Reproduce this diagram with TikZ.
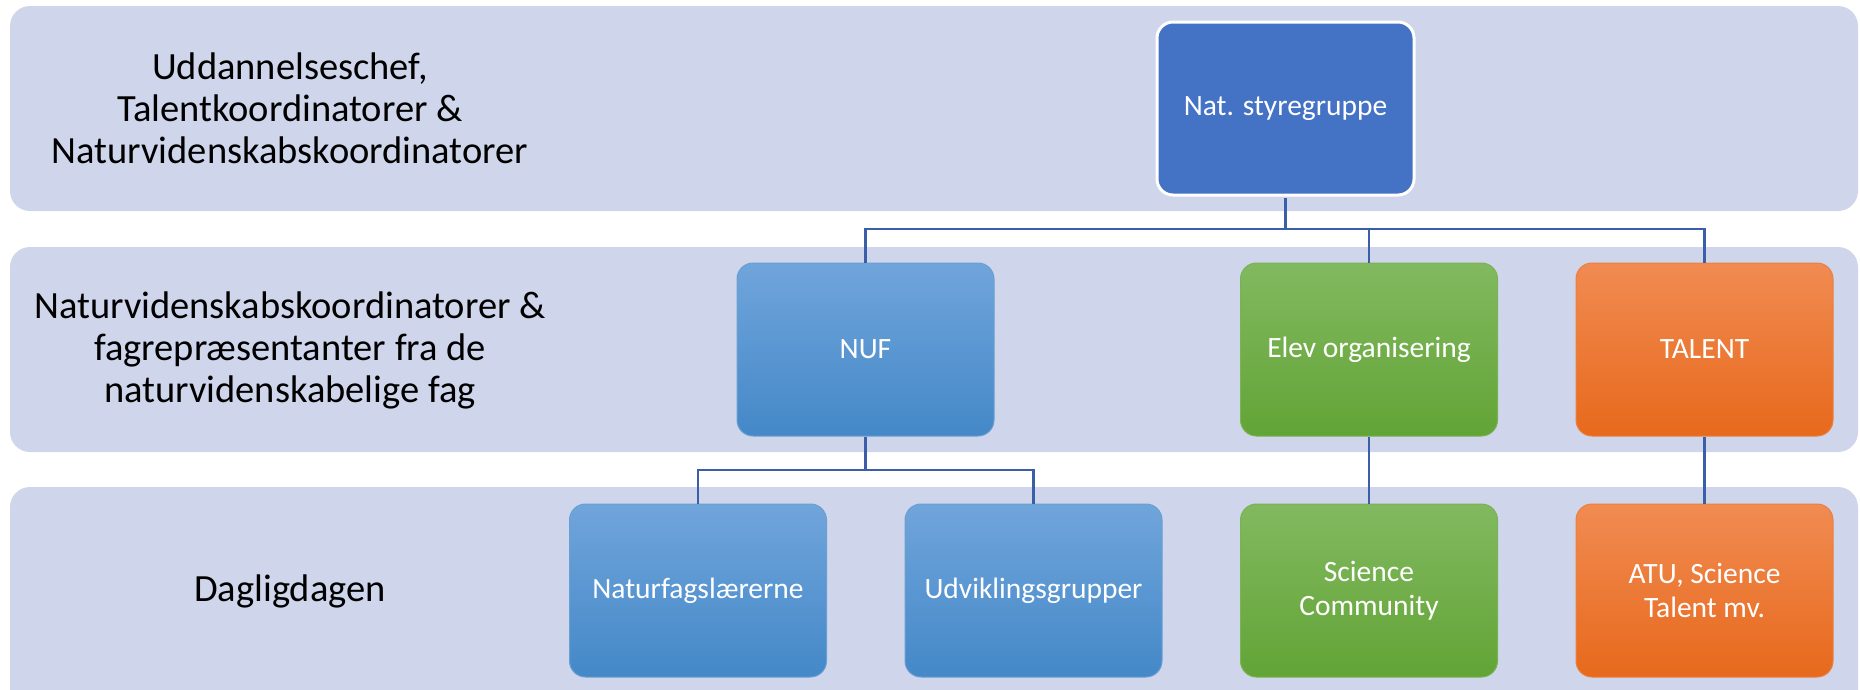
\documentclass[tikz,border=0pt]{standalone}
\usepackage{fontspec}
\setmainfont{Carlito}
\usepackage{tikz}
\usetikzlibrary{positioning}

\definecolor{bandgray}{HTML}{CFD5EA}
\definecolor{natblue}{HTML}{4472C4}
\definecolor{linkblue}{HTML}{3A5FA8}
\definecolor{bluetop}{HTML}{70A5DB}
\definecolor{bluebot}{HTML}{4488C8}
\definecolor{greentop}{HTML}{82B960}
\definecolor{greenbot}{HTML}{62A436}
\definecolor{orangetop}{HTML}{F18B52}
\definecolor{orangebot}{HTML}{E7691C}

\tikzset{
  band/.style={fill=bandgray, rounded corners=20pt},
  lvltext/.style={font=\fontsize{38.5}{42}\selectfont, align=center, text=black},
  unit/.style={rectangle, rounded corners=16pt, minimum width=257pt, minimum height=173pt,
    inner sep=0pt, text=white, align=center, font=\fontsize{29.5}{34}\selectfont},
  natbox/.style={unit, fill=natblue, draw=white, line width=3pt},
  bluebox/.style={unit, top color=bluetop, bottom color=bluebot, draw=bluebot!80!white, line width=1pt},
  greenbox/.style={unit, top color=greentop, bottom color=greenbot, draw=greenbot!85!white, line width=1pt},
  orangebox/.style={unit, top color=orangetop, bottom color=orangebot, draw=orangebot!85!white, line width=1pt},
  conn/.style={draw=linkblue, line width=2.6pt}
}

\begin{document}
\begin{tikzpicture}[x=1pt, y=-1pt]
\useasboundingbox (0,0) rectangle (1860,689);

% levels
\fill[band] (10,6) rectangle (1858,211);
\fill[band] (10,247) rectangle (1858,452);
\fill[band] (10,487) rectangle (1858,720);

\node[lvltext] (lvlone) at (290,108) {Uddannelseschef,\\Talentkoordinatorer \&\\Naturvidenskabskoordinatorer};
\node[lvltext] (lvltwo) at (290,350) {Naturvidenskabskoordinatorer \&\\fagrepræsentanter fra de\\naturvidenskabelige fag};
\node[lvltext] (lvlthree) at (290,591) {Dagligdagen};

% boxes
\node[natbox] (nat) at (1285.5,108.5) {Nat. styregruppe};
\node[bluebox] (nuf) at (865.5,349.5) {NUF};
\node[greenbox] (elev) at (1369,349.5) {Elev organisering};
\node[orangebox] (talent) at (1704.5,349.5) {TALENT};
\node[bluebox] (naturfag) at (698,590.5) {Naturfagslærerne};
\node[bluebox] (udvikl) at (1033.5,590.5) {Udviklingsgrupper};
\node[greenbox] (science) at (1369,590.5) {Science\\Community};
\node[orangebox] (atu) at (1704.5,590.5) {ATU, Science\\Talent mv.};

% connectors
\coordinate (bus) at (0,229);
\coordinate (nufbus) at (0,470);
\draw[conn] ([yshift=-1.5pt]nat.south) -- (nat.south |- bus);
\draw[conn] (nuf.north) |- (bus -| talent.north) -- (talent.north);
\draw[conn] (elev.north) -- (elev.north |- bus);
\draw[conn] (nuf.south) -- (nuf.south |- nufbus);
\draw[conn] (naturfag.north) |- (nufbus -| udvikl.north) -- (udvikl.north);
\draw[conn] (elev.south) -- (science.north);
\draw[conn] (talent.south) -- (atu.north);
\end{tikzpicture}
\end{document}
